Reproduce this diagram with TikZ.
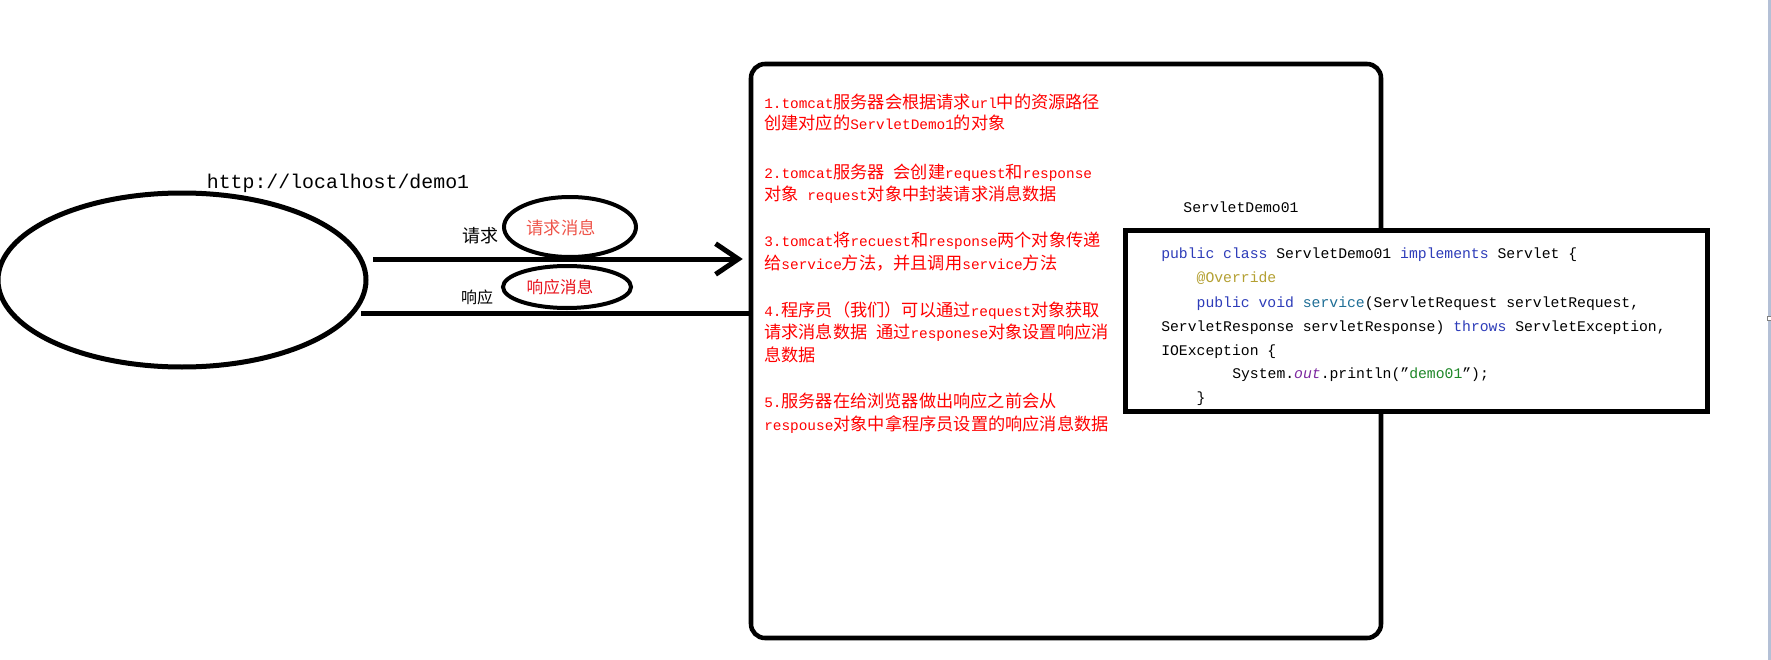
\documentclass[tikz,border=0pt]{standalone}
\usepackage{fontspec}
\usetikzlibrary{arrows.meta,shapes.geometric}
\setmainfont{Liberation Mono}
\newfontfamily\zhfont{Noto Sans CJK SC}
\newcommand\pxu{0.75pt}
\newcommand\zh[1]{{\fontsize{12.9pt}{15pt}\selectfont\zhfont #1}}
\definecolor{kwc}{RGB}{45,60,185}
\definecolor{methc}{RGB}{30,110,150}
\definecolor{annoc}{RGB}{180,160,50}
\definecolor{fldc}{RGB}{125,40,160}
\definecolor{strc}{RGB}{30,135,40}
\definecolor{reqc}{RGB}{238,85,75}
\definecolor{respc}{RGB}{232,20,30}
\definecolor{scrollc}{RGB}{180,192,214}
\newcommand\kw[1]{{\color{kwc}#1}}
\begin{document}
\begin{tikzpicture}[x=0.75pt,y=-0.75pt,
  heavy/.style={line width=3.75pt},
  redtxt/.style={anchor=base west,inner sep=0,text=red,font=\fontsize{10.8pt}{13pt}\selectfont},
  codetxt/.style={anchor=base west,inner sep=0,font=\fontsize{11.06pt}{13pt}\selectfont},
  msgell/.style={ellipse,draw,line width=3pt,inner sep=0}]
\useasboundingbox (0,0) rectangle (1771,660);
% scrollbar at right edge
\fill[scrollc] (1768,0) rectangle (1771,660);
\draw[gray,fill=white,line width=0.6pt] (1767.5,316) rectangle (1771,320);

% browser
\node[ellipse,draw,heavy,inner sep=0,minimum width=368*\pxu,minimum height=174*\pxu] (browser) at (182,280) {};
\node[font=\fontsize{14.9pt}{17pt}\selectfont,inner sep=0] (url) at (338,183) {http://localhost/demo1};

% server box
\node[draw,line width=3.4pt,rounded corners=10.5pt,minimum width=630*\pxu,minimum height=574*\pxu,inner sep=0] (server) at (1066,351) {};

% request / response messages
\node[msgell,minimum width=132*\pxu,minimum height=60*\pxu] (reqmsg) at (570,227) {};
\node[inner sep=0,text=reqc,font=\fontsize{13pt}{15pt}\selectfont\zhfont] (reqmsgtxt) at (561,228) {请求消息};
\node[msgell,minimum width=128*\pxu,minimum height=42*\pxu] (respmsg) at (567,287) {};
\node[inner sep=0,text=respc,font=\fontsize{12.5pt}{15pt}\selectfont\zhfont] (respmsgtxt) at (560,287) {响应消息};
\node[inner sep=0,font=\fontsize{13.5pt}{15pt}\selectfont\zhfont] (reqlbl) at (480,236) {请求};
\node[inner sep=0,font=\fontsize{12pt}{15pt}\selectfont\zhfont] (resplbl) at (477,297) {响应};

\coordinate (reqstart) at (373,259);
\coordinate (respstart) at (361,313);
\draw[heavy,-{Straight Barb[length=17pt,width=23pt,line width=3.75pt]},shorten >=4.5pt] (reqstart) -- (server.west |- reqstart);
\draw[heavy] (respstart) -- (server.west |- respstart);

% red explanation text
\node[redtxt] (t1) at (764,108.5) {1.tomcat\zh{服务器会根据请求}url\zh{中的资源路径}};
\node[redtxt] (t2) at (764,129.5) {\zh{创建对应的}ServletDemo1\zh{的对象}};
\node[redtxt] (t3) at (764,178.5) {2.tomcat\zh{服务器} \zh{会创建}request\zh{和}response};
\node[redtxt] (t4) at (764,200) {\zh{对象} request\zh{对象中封装请求消息数据}};
\node[redtxt] (t5) at (764,246) {3.tomcat\zh{将}recuest\zh{和}response\zh{两个对象传递}};
\node[redtxt] (t6) at (764,269) {\zh{给}service\zh{方法，并且调用}service\zh{方法}};
\node[redtxt] (t7) at (764,316) {4.\zh{程序员（我们）可以通过}request\zh{对象获取}};
\node[redtxt] (t8) at (764,338) {\zh{请求消息数据} \zh{通过}responese\zh{对象设置响应消}};
\node[redtxt] (t9) at (764,361) {\zh{息数据}};
\node[redtxt] (t10) at (764,407.5) {5.\zh{服务器在给浏览器做出响应之前会从}};
\node[redtxt] (t11) at (764,430) {respouse\zh{对象中拿程序员设置的响应消息数据}};

% servlet code
\node[inner sep=0,font=\fontsize{11.06pt}{13pt}\selectfont] (codetitle) at (1241,207) {ServletDemo01};
\node[draw,fill=white,heavy,inner sep=0,minimum width=582*\pxu,minimum height=181*\pxu] (code) at (1416,320.5) {};
\node[codetxt] (c1) at (1161,258) {\kw{public} \kw{class} ServletDemo01 \kw{implements} Servlet \{};
\node[codetxt] (c2) at (1196.4,282) {{\color{annoc}@Override}};
\node[codetxt] (c3) at (1196.4,307) {\kw{public} \kw{void} {\color{methc}service}(ServletRequest servletRequest,};
\node[codetxt] (c4) at (1161,331) {ServletResponse servletResponse) \kw{throws} ServletException,};
\node[codetxt] (c5) at (1161,355) {IOException \{};
\node[codetxt] (c6) at (1232,378) {System.{\color{fldc}\itshape out}.println(”{\color{strc}demo01}”);};
\node[codetxt] (c7) at (1196.4,402) {\}};
\end{tikzpicture}
\end{document}
